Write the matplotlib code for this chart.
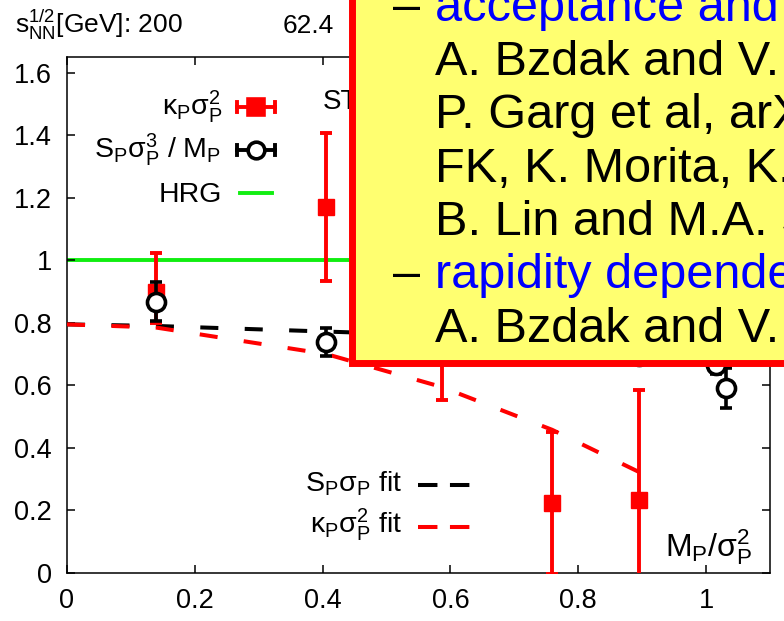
import matplotlib
matplotlib.use('Agg')
import matplotlib.pyplot as plt
from matplotlib.lines import Line2D
from matplotlib.patches import Rectangle
from matplotlib.ticker import FuncFormatter

plt.rcParams['font.family'] = 'Liberation Sans'
plt.rcParams['mathtext.fontset'] = 'custom'
plt.rcParams['mathtext.rm'] = 'Liberation Sans'
plt.rcParams['mathtext.it'] = 'Liberation Sans'
plt.rcParams['mathtext.default'] = 'regular'
plt.rcParams['lines.scale_dashes'] = False

# kappa*sigma^2 data (red squares)
kappa_x = [0.139, 0.406, 0.586, 0.759, 0.895]
kappa_y = [0.90, 1.171, 0.80, 0.224, 0.234]
kappa_err_lo = [0.10, 0.237, 0.246, 0.227, 0.35]
kappa_err_hi = [0.124, 0.237, 0.246, 0.227, 0.35]

# S*sigma^3/M data (black circles)
skew_x = [0.139, 0.406, 0.895, 1.016, 1.031]
skew_y = [0.867, 0.739, 0.695, 0.665, 0.592]
skew_err = [0.062, 0.045, 0.02, 0.03, 0.065]

# fit curves
fit_s_x = [0, 0.139, 0.406, 0.586, 0.759, 0.895, 1.016, 1.031]
fit_s_y = [0.795, 0.79, 0.772, 0.76, 0.75, 0.74, 0.735, 0.733]
fit_k_x = [0, 0.139, 0.406, 0.586, 0.759, 0.895]
fit_k_y = [0.795, 0.785, 0.70, 0.595, 0.458, 0.323]
hrg_level = 1.0

energy_labels = [r'$s_{NN}^{1/2}$[GeV]: 200', '62.4']

note_lines = ['acceptance and efficiency corrections',
              'A. Bzdak and V. Koch',
              'P. Garg et al, arXiv',
              'FK, K. Morita, K. Nakamura',
              'B. Lin and M.A. Stephanov',
              'rapidity dependence',
              'A. Bzdak and V. Koch']
note_is_head = [True, False, False, False, False, True, False]

W, H = 784, 621
RED = '#ff0000'
GREEN = '#11ee11'


def fx(px):
    return px / W


def fy(py):
    return 1 - py / H


fig = plt.figure(figsize=(7.84, 6.21), dpi=100)
ax = fig.add_axes([fx(67), fy(573), (770 - 67) / W, (573 - 57) / H])

ax.axhline(hrg_level, color=GREEN, lw=2.8, zorder=1)
ax.plot(fit_s_x, fit_s_y, color='black', lw=2.9, dashes=(13, 19), zorder=2)
ax.plot(fit_k_x, fit_k_y, color=RED, lw=2.9, dashes=(13, 19), zorder=3)
ax.errorbar(kappa_x, kappa_y, yerr=[kappa_err_lo, kappa_err_hi], fmt='s',
            color=RED, ms=12, elinewidth=2.8, capsize=4.5, capthick=2.8,
            zorder=4)
ax.errorbar(skew_x, skew_y, yerr=skew_err, fmt='o', mfc='white', mec='black',
            ms=13, mew=2.6, ecolor='black', elinewidth=2.6, capsize=4,
            capthick=2.6, zorder=5)

ax.set_xlim(0, 1.1)
ax.set_ylim(0, 1.65)
ax.set_xticks([0, 0.2, 0.4, 0.6, 0.8, 1.0])
ax.set_yticks([0, 0.2, 0.4, 0.6, 0.8, 1.0, 1.2, 1.4, 1.6])
fmt = FuncFormatter(lambda v, p: '%g' % round(v, 3))
ax.xaxis.set_major_formatter(fmt)
ax.yaxis.set_major_formatter(fmt)
ax.tick_params(direction='in', length=6, width=1.1, top=True, right=True,
               labelsize=19.5, pad=11)
for s in ax.spines.values():
    s.set_linewidth(1.1)

ax.text(1.073, 0.052, r'$M_P/\sigma_P^2$', fontsize=23, ha='right', va='baseline')
ax.text(0.40, 1.485, 'STAR', fontsize=20, va='baseline')

# energy labels on top
fig.text(fx(15), fy(33), energy_labels[0], fontsize=19, va='baseline')
fig.text(fx(283), fy(33), energy_labels[1], fontsize=19, va='baseline')


def key_errbar(y, color, marker, mfc):
    x0, x1 = 237, 275
    fig.add_artist(Line2D([fx(x0), fx(x1)], [fy(y), fy(y)], color=color, lw=2.8))
    for xc in (x0, x1):
        fig.add_artist(Line2D([fx(xc), fx(xc)], [fy(y - 5), fy(y + 5)],
                              color=color, lw=2.8))
    fig.add_artist(Line2D([fx((x0 + x1) / 2)], [fy(y)], marker=marker,
                          ms=12, mfc=mfc, mec=color, mew=2.6, color=color))


# upper key
KEY_FS = 20.5
fig.text(fx(223), fy(115), r'$\kappa_P\sigma_P^2$', fontsize=KEY_FS, ha='right', va='baseline')
key_errbar(107, RED, 's', RED)
fig.text(fx(221), fy(158), r'$S_P\sigma_P^3$ / $M_P$', fontsize=KEY_FS, ha='right', va='baseline')
key_errbar(150, 'black', 'o', 'white')
fig.text(fx(222), fy(202), 'HRG', fontsize=KEY_FS, ha='right', va='baseline')
fig.add_artist(Line2D([fx(240), fx(272)], [fy(193), fy(193)], color=GREEN, lw=2.8))

# lower key
fig.text(fx(402), fy(492), r'$S_P\sigma_P$ fit', fontsize=KEY_FS, ha='right', va='baseline')
fig.add_artist(Line2D([fx(418), fx(470)], [fy(485), fy(485)], color='black',
                      lw=2.9, dashes=(14, 9)))
fig.text(fx(402), fy(533), r'$\kappa_P\sigma_P^2$ fit', fontsize=KEY_FS, ha='right', va='baseline')
fig.add_artist(Line2D([fx(418), fx(470)], [fy(527), fy(527)], color=RED,
                      lw=2.9, dashes=(14, 9)))

# yellow note box
box = Rectangle((fx(352), fy(362.5)), 1.0, 1.0, transform=fig.transFigure,
                facecolor='#ffff70', edgecolor=RED, lw=5, zorder=10,
                clip_on=False)
fig.add_artist(box)
baselines = [21, 75, 128, 182, 235, 288, 342]
for line, head, b in zip(note_lines, note_is_head, baselines):
    if head:
        fig.text(fx(393), fy(b), '–', fontsize=35, va='baseline', zorder=11)
        fig.text(fx(435), fy(b), line, fontsize=35, color='blue',
                 va='baseline', zorder=11)
    else:
        fig.text(fx(435), fy(b), line, fontsize=35, va='baseline', zorder=11)

fig.savefig('out.png', dpi=100)
